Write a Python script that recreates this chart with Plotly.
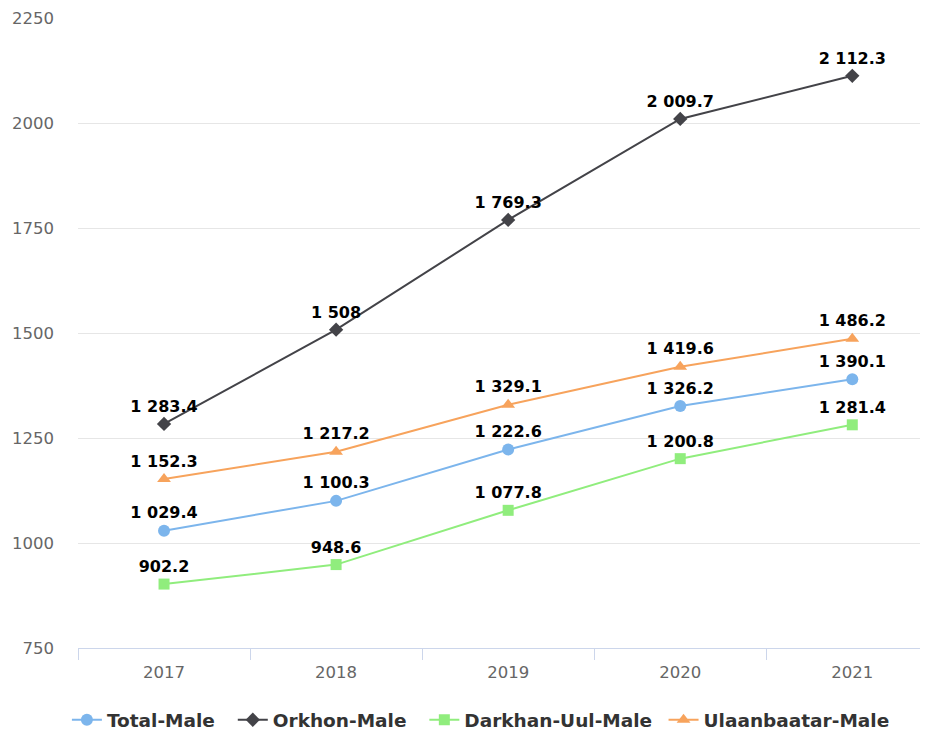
import plotly.graph_objects as go

years = ["2017", "2018", "2019", "2020", "2021"]
total_male = [1029.4, 1100.3, 1222.6, 1326.2, 1390.1]
orkhon_male = [1283.4, 1508, 1769.3, 2009.7, 2112.3]
darkhan_male = [902.2, 948.6, 1077.8, 1200.8, 1281.4]
ulaanbaatar_male = [1152.3, 1217.2, 1329.1, 1419.6, 1486.2]
y_ticks = [750, 1000, 1250, 1500, 1750, 2000, 2250]


def fmt(v):
    s = f"{v:,.1f}".replace(",", " ")
    if s.endswith(".0"):
        s = s[:-2]
    return s


NB = "\u00a0"
series = [
    ("Total-Male", total_male, "#7cb5ec", "circle", 12, NB * 2),
    ("Orkhon-Male", orkhon_male, "#434348", "diamond", 11, NB * 2),
    ("Darkhan-Uul-Male", darkhan_male, "#90ed7d", "square", 11, NB * 1),
    ("Ulaanbaatar-Male", ulaanbaatar_male, "#f7a35c", "triangle-up", 12, ""),
]

fig = go.Figure()
for name, vals, color, sym, size, pad in series:
    fig.add_trace(go.Scatter(
        x=years, y=vals, name=name + pad, mode="lines+markers+text",
        line=dict(color=color, width=2),
        marker=dict(color=color, symbol=sym, size=size),
        text=[fmt(v) for v in vals], textposition="top center",
        textfont=dict(family="DejaVu Sans", size=16, color="#000000", weight="bold"),
        cliponaxis=False,
    ))

fig.update_layout(
    width=920, height=726,
    margin=dict(l=70, r=0, t=10, b=86),
    paper_bgcolor="white", plot_bgcolor="white",
    font=dict(family="DejaVu Sans", color="#666666"),
    showlegend=True,
    legend=dict(orientation="h", x=0.474, xanchor="center", xref="paper",
                y=0.019, yanchor="middle", yref="container",
                font=dict(family="DejaVu Sans", size=18.5, color="#333333", weight="bold"),
                tracegroupgap=0),
    xaxis=dict(type="category", range=[-0.5, 4.44], tickson="boundaries",
               ticks="outside", ticklen=11, tickcolor="#ccd6eb", tickwidth=1,
               showline=True, linecolor="#ccd6eb", linewidth=1,
               showgrid=False, tickfont=dict(size=16.5, color="#666666"),
               ticklabelstandoff=9),
    yaxis=dict(range=[750, 2250], tickvals=y_ticks, showgrid=True,
               gridcolor="#e6e6e6", gridwidth=1, zeroline=False,
               tickfont=dict(size=16.5, color="#666666"), ticklabelstandoff=23,
               showline=False),
)

fig.write_html("out.html")
